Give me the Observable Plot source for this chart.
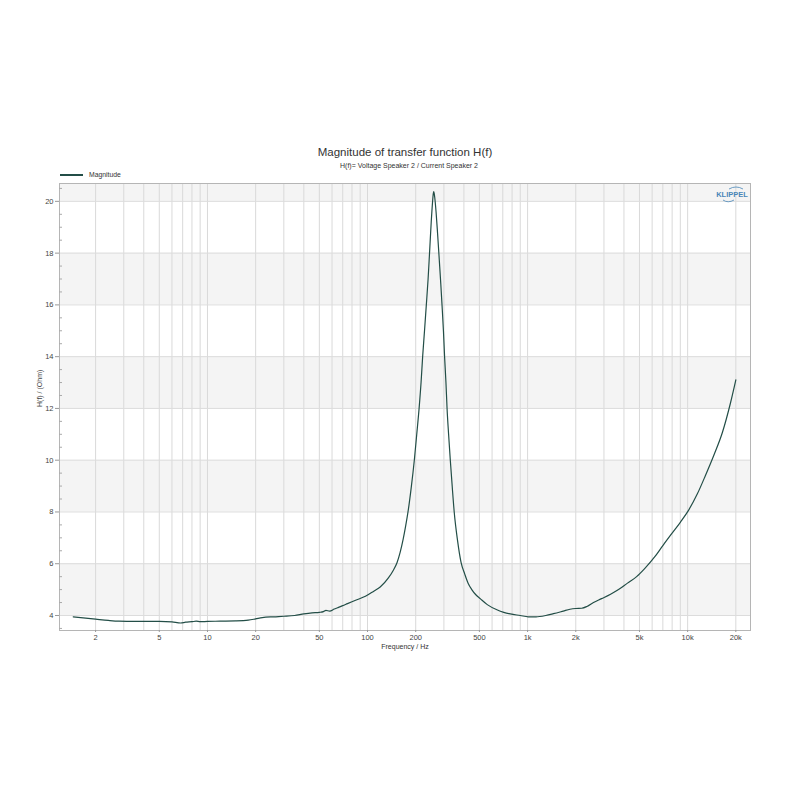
<!DOCTYPE html>
<html>
<head>
<meta charset="utf-8">
<script src="https://cdn.jsdelivr.net/npm/d3@7"></script>
<script src="https://cdn.jsdelivr.net/npm/@observablehq/plot@0.6"></script>
<style>
  body { margin: 0; background: #fff; font-family: "Liberation Sans", Arial, sans-serif; }
  #wrap { position: relative; width: 800px; height: 800px; }
  .abs { position: absolute; white-space: nowrap; color: #333; }
  #title { left: 0; width: 810px; text-align: center; top: 146px; font-size: 11.5px; }
  #subtitle { left: 0; width: 818px; text-align: center; top: 162px; font-size: 7px; }
  #legend { left: 60px; top: 171px; font-size: 6.8px; display: flex; align-items: center; }
  #legend span.ln { display: inline-block; width: 23px; height: 2px; background: #234e47; margin-right: 6px; }
  #logo { left: 714px; top: 184px; }
</style>
</head>
<body>
<div id="wrap">
  <div id="chart"></div>
  <div class="abs" id="title">Magnitude of transfer function H(f)</div>
  <div class="abs" id="subtitle">H(f)= Voltage Speaker 2 / Current Speaker 2</div>
  <div class="abs" id="legend"><span class="ln"></span>Magnitude</div>
  <div class="abs" id="logo"><svg width="36" height="22"><path d="M15,5 Q22,1 29,5" fill="none" stroke="#4a86b8" stroke-width="0.8"/><text x="18" y="13" text-anchor="middle" font-size="7.5" font-weight="bold" fill="#4a86b8" font-family="Liberation Sans, Arial">KLIPPEL</text><path d="M9,16 Q14,19.5 20,16" fill="none" stroke="#4a86b8" stroke-width="0.8"/></svg></div>
</div>
<script>
// Frequency (Hz) and magnitude (Ohm)
const freq = [1.45, 2, 2.4, 2.8, 3.5, 4, 5, 6, 6.8, 7.3, 8, 8.5, 9, 10, 12, 15, 18, 20, 22, 26, 30, 35, 40, 45, 50, 53, 55, 58, 62, 65, 70, 75, 85, 97,
  110, 120, 135, 145, 153, 160, 167, 173, 179, 188, 196, 203, 210, 216, 221, 227, 233, 239, 244, 250, 255, 257, 259, 261, 263, 268, 274, 281, 287, 292, 298, 303, 309, 314, 321, 329, 338, 348, 365, 384,
  405, 425, 448, 475, 506, 560, 643, 710, 780, 900, 1010, 1130, 1190, 1300, 1450, 1670, 1840, 2000, 2180, 2350, 2580, 2900, 3300, 3700, 4210, 4800, 5370, 6220, 7000, 7950, 9000,
  10100, 11500, 12900, 14600, 16500, 18500, 20000];
const magnitude = [3.95, 3.86, 3.81, 3.78, 3.77, 3.77, 3.77, 3.75, 3.71, 3.74, 3.76, 3.78, 3.76, 3.77, 3.78, 3.79, 3.82, 3.87, 3.92, 3.95, 3.97, 4.0, 4.06, 4.1, 4.12, 4.15, 4.2, 4.17, 4.25, 4.3, 4.38, 4.46, 4.6, 4.74,
  4.95, 5.1, 5.45, 5.75, 6.05, 6.45, 6.95, 7.45, 8.0, 9.0, 10.0, 11.0, 12.0, 13.0, 14.0, 15.0, 16.0, 17.0, 18.0, 19.2, 20.0, 20.25, 20.38, 20.3, 20.15, 19.6, 18.75, 17.7, 16.8, 16.0, 15.0, 14.0, 13.0, 12.0, 11.0, 10.0, 9.0, 8.0, 6.9, 6.05,
  5.6, 5.25, 5.0, 4.8, 4.65, 4.42, 4.22, 4.12, 4.06, 4.0, 3.95, 3.95, 3.96, 4.0, 4.07, 4.17, 4.24, 4.27, 4.28, 4.35, 4.5, 4.65, 4.82, 5.0, 5.25, 5.5, 5.8, 6.26, 6.7, 7.16, 7.6,
  8.05, 8.7, 9.4, 10.2, 11.08, 12.2, 13.1];

const xTickValues = [2, 5, 10, 20, 50, 100, 200, 500, 1000, 2000, 5000, 10000, 20000];
const xTickLabels = ["2", "5", "10", "20", "50", "100", "200", "500", "1k", "2k", "5k", "10k", "20k"];
const yTickValues = [4, 6, 8, 10, 12, 14, 16, 18, 20];
const shadedBands = [[4, 6], [8, 10], [12, 14], [16, 18], [20, 20.69]];
const xDomain = [1.19, 24700];
const yDomain = [3.42, 20.69];

const data = freq.map((f, i) => ({f, m: magnitude[i]}));
const xGrid = [];
for (let e = 0; e <= 4; e++) for (let k = 1; k <= 9; k++) {
  const v = k * Math.pow(10, e);
  if (v > xDomain[0] && v < xDomain[1]) xGrid.push(v);
}
const yMinor = d3.range(3.5, 20.6, 0.5).filter(v => !yTickValues.includes(v));
const xTicks = xTickValues.map((v, i) => ({v, label: xTickLabels[i]}));

const chart = Plot.plot({
  width: 800,
  height: 800,
  marginTop: 183,
  marginBottom: 170,
  marginLeft: 59,
  marginRight: 50,
  style: {fontFamily: "'Liberation Sans', Arial, sans-serif", fontSize: "7px", color: "#444", background: "#fff"},
  x: {type: "log", domain: xDomain, axis: null},
  y: {domain: yDomain, axis: null},
  marks: [
    Plot.rect(shadedBands, {y1: d => d[0], y2: d => d[1], fill: "#f4f4f4"}),
    Plot.ruleX(xGrid, {stroke: "#d9d9d9", strokeWidth: 1}),
    Plot.ruleY(yTickValues, {stroke: "#dcdcdc", strokeWidth: 1}),
    Plot.frame({stroke: "#b5b5b5"}),
    Plot.axisY(yTickValues, {anchor: "left", tickSize: 4, tickPadding: 2, label: null, stroke: "#999", fill: "#444", fontSize: 7.5}),
    Plot.axisY(yMinor, {anchor: "left", tickSize: -3, tickFormat: () => "", label: null, stroke: "#aaa"}),
    Plot.axisX(xTickValues, {anchor: "bottom", tickSize: 2, tickFormat: () => "", label: null, stroke: "#999"}),
    Plot.text(xTicks, {x: "v", text: "label", frameAnchor: "bottom", dy: 9, fontSize: 7.5, fill: "#444"}),
    Plot.text(["H(f) / (Ohm)"], {frameAnchor: "left", dx: -20, rotate: -90, fontSize: 7, fill: "#444"}),
    Plot.text(["Frequency / Hz"], {frameAnchor: "bottom", dy: 18, fontSize: 7, fill: "#333"}),
    Plot.line(data, {x: "f", y: "m", stroke: "#234e47", strokeWidth: 1.2, curve: "monotone-x"})
  ]
});
document.getElementById("chart").appendChild(chart);
</script>
</body>
</html>
